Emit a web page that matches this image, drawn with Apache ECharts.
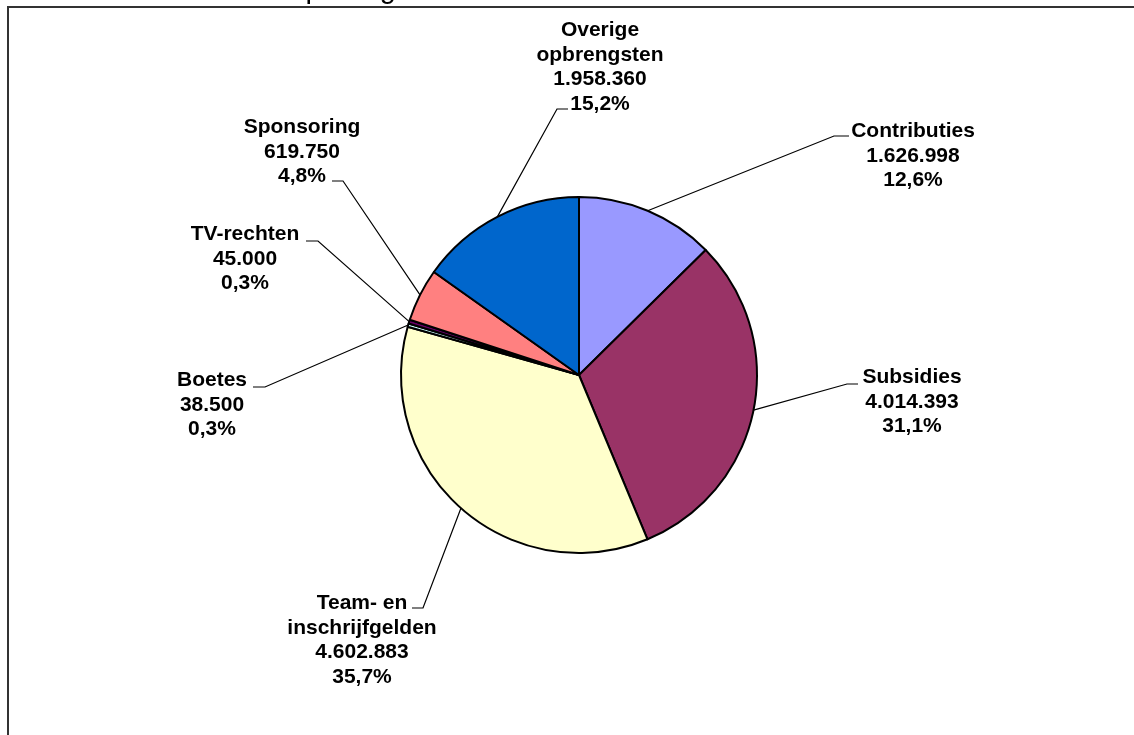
<!DOCTYPE html>
<html>
<head>
<meta charset="utf-8">
<script src="https://cdn.jsdelivr.net/npm/echarts@6/dist/echarts.min.js"></script>
<style>
html,body{margin:0;padding:0;background:#fff;}
#chart{width:1134px;height:735px;}
</style>
</head>
<body>
<div id="chart"></div>
<script>
// ---- data ----
const categories = ['Contributies', 'Subsidies', 'Team- en\ninschrijfgelden', 'Boetes', 'TV-rechten', 'Sponsoring', 'Overige\nopbrengsten'];
const values = [1626998, 4014393, 4602883, 38500, 45000, 619750, 1958360];
const colors = ['#9999FF', '#993366', '#FFFFCC', '#CCFFFF', '#660066', '#FF8080', '#0066CC'];
const titleText = 'Opbrengsten';

// ---- label layout (label centre x, y; leader elbow x, y; leader end x) ----
const labelPos = [
  [913, 156, 834, 136, 849],
  [912, 402, 847, 384, 858],
  [362, 640, 423, 608, 412],
  [212, 405, 265, 387, 253],
  [245, 259, 318, 241, 306],
  [302, 152, 343, 181, 332],
  [600, 67, 557, 109, 568]
];

const total = values.reduce((a, b) => a + b, 0);
function fmtNum(v) {
  return String(v).replace(/\B(?=(\d{3})+(?!\d))/g, '.');
}
function fmtPct(v) {
  return (Math.round(v / total * 1000) / 10).toFixed(1).replace('.', ',') + '%';
}

const chart = echarts.init(document.getElementById('chart'), null, {renderer: 'canvas'});
chart.setOption({
  backgroundColor: '#ffffff',
  animation: false,
  graphic: [
    {
      type: 'rect',
      shape: {x: 8, y: 7, width: 1300, height: 900},
      style: {fill: 'none', stroke: '#333333', lineWidth: 2},
      silent: true,
      z: 0
    },
    {
      type: 'text',
      x: 283,
      y: -10,
      style: {
        text: titleText,
        font: 'normal 29px "Liberation Sans", Arial, sans-serif',
        fill: '#000',
        align: 'left',
        verticalAlign: 'middle'
      },
      silent: true
    }
  ],
  series: [{
    type: 'pie',
    center: [579, 375],
    radius: 178,
    startAngle: 90,
    clockwise: true,
    avoidLabelOverlap: false,
    minShowLabelAngle: 0,
    data: categories.map((c, i) => ({
      name: c,
      value: values[i],
      itemStyle: {color: colors[i]}
    })),
    itemStyle: {borderColor: '#000', borderWidth: 2},
    emphasis: {disabled: true},
    label: {
      show: true,
      position: 'outside',
      formatter: p => p.name + '\n' + fmtNum(p.value) + '\n' + fmtPct(p.value),
      fontFamily: '"Liberation Sans", Arial, sans-serif',
      fontWeight: 'bold',
      fontSize: 21,
      lineHeight: 24.5,
      color: '#000',
      align: 'center'
    },
    labelLine: {
      show: true,
      length: 20,
      length2: 10,
      lineStyle: {color: '#000', width: 1.2}
    },
    labelLayout: function (params) {
      const L = labelPos[params.dataIndex];
      const start = params.labelLinePoints ? params.labelLinePoints[0] : [L[2], L[3]];
      return {
        x: L[0],
        y: L[1],
        align: 'center',
        verticalAlign: 'middle',
        labelLinePoints: [start, [L[2], L[3]], [L[4], L[3]]]
      };
    }
  }]
});
</script>
</body>
</html>
